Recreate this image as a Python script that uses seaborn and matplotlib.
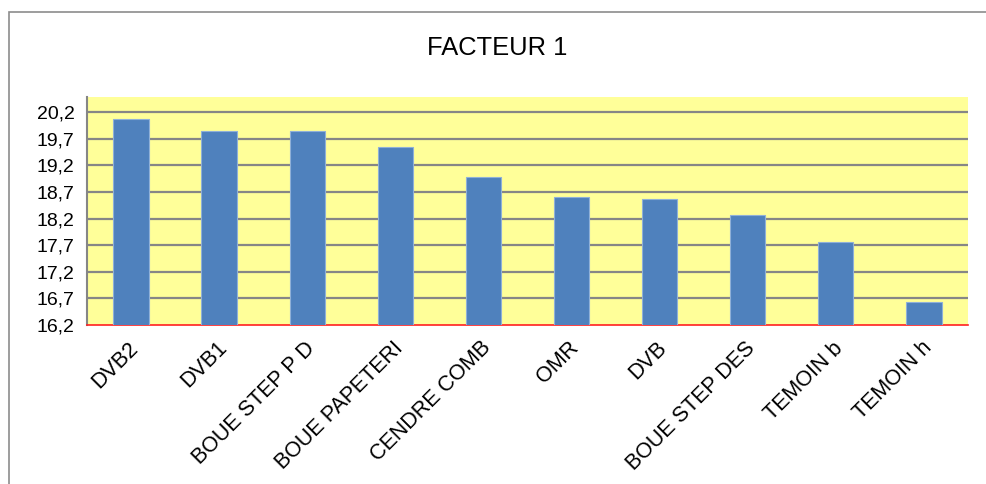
import numpy as np
import pandas as pd
import matplotlib
matplotlib.use("Agg")
import matplotlib.pyplot as plt
import matplotlib.ticker as mticker
import matplotlib.transforms as mtransforms
from matplotlib.patches import Rectangle
import seaborn as sns

sns.set_style("white")
plt.rcParams['font.family'] = ['Liberation Sans', 'DejaVu Sans']
plt.rcParams['text.color'] = 'black'
plt.rcParams['xtick.labelcolor'] = 'black'
plt.rcParams['ytick.labelcolor'] = 'black'

# data
traitements = ["DVB2", "DVB1", "BOUE STEP P D", "BOUE PAPETERI", "CENDRE COMB",
               "OMR", "DVB", "BOUE STEP DES", "TEMOIN b", "TEMOIN h"]
facteur1 = [20.07, 19.85, 19.84, 19.54, 18.98, 18.60, 18.56, 18.26, 17.76, 16.63]
yticks = [16.2, 16.7, 17.2, 17.7, 18.2, 18.7, 19.2, 19.7, 20.2]

df = pd.DataFrame({"traitement": traitements, "valeur": facteur1})

fig = plt.figure(figsize=(9.86, 4.84), dpi=100)
ax = fig.add_axes([0.0882, 0.3285, 0.8935, 0.4717])

# outer chart frame
fig.patches.append(Rectangle((9 / 986, -0.05), 1.2, 1 - 12 / 484 + 0.05,
                             transform=fig.transFigure, fill=False,
                             edgecolor="#8c8c8c", linewidth=1.2))

ax.set_facecolor("#FFFF99")
sns.barplot(data=df, x="traitement", y="valeur", color="#4F81BD",
            saturation=1, width=0.4, edgecolor="#8fb0d8", linewidth=0.8,
            ax=ax, zorder=3)

ax.set_ylim(16.2, 20.49)
ax.set_xlim(-0.5, len(traitements) - 0.5)
ax.set_yticks(yticks)
ax.yaxis.set_major_formatter(mticker.FuncFormatter(lambda v, p: f"{v:.1f}".replace(".", ",")))
for y in yticks[1:]:
    ax.axhline(y, color="#868686", linewidth=1.6, zorder=1)

# x axis: red line, ticks between categories
ax.set_xticks(range(len(traitements)))
ax.set_xticks(np.arange(-0.5, len(traitements), 1.0), minor=True)
ax.tick_params(axis="x", which="major", length=0, pad=9)
ax.tick_params(axis="x", which="minor", length=5, color="#ff4040", width=1)
ax.set_xticklabels(traitements, rotation=45, ha="right", va="top",
                   rotation_mode="anchor", fontsize=15.5)
shift = mtransforms.ScaledTranslation(-3 / 100, 0, fig.dpi_scale_trans)
for lab in ax.get_xticklabels():
    lab.set_transform(lab.get_transform() + shift)
ax.tick_params(axis="y", length=5, color="#868686", width=1.2, labelsize=14, pad=4)

for s in ["top", "right"]:
    ax.spines[s].set_visible(False)
ax.spines["bottom"].set_color("#ff2020")
ax.spines["bottom"].set_linewidth(1.2)
ax.spines["left"].set_color("#868686")
ax.spines["left"].set_linewidth(1.5)

ax.set_xlabel("")
ax.set_ylabel("")
fig.text(497 / 986, 1 - 48 / 484, "FACTEUR 1", ha="center", va="center", fontsize=18.4)

fig.savefig("out.png", dpi=100)
